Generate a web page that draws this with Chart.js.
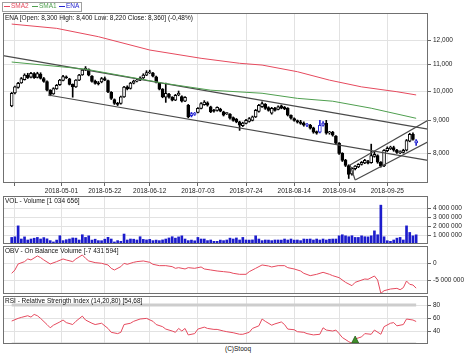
<!DOCTYPE html>
<html><head><meta charset="utf-8">
<script src="https://cdn.jsdelivr.net/npm/chart.js@4/dist/chart.umd.min.js"></script>
<style>
html,body{margin:0;padding:0;background:#fff;}
#wrap{position:relative;width:474px;height:355px;overflow:hidden;font-family:"Liberation Sans",Arial,sans-serif;}
canvas{position:absolute;left:0;}
.t{position:absolute;font-size:6.5px;line-height:8px;height:8px;color:#111;white-space:nowrap;}
.dash{position:absolute;height:1px;width:6px;}
#legend{position:absolute;left:2px;top:2px;width:78px;height:8px;border:1px solid #a0a0a0;background:#fff;}
</style></head><body>
<div id="wrap">
<canvas id="cMain" width="474" height="195" style="top:0;width:474px;height:195px"></canvas>
<canvas id="cVol" width="474" height="50" style="top:195px;width:474px;height:50px"></canvas>
<canvas id="cObv" width="474" height="50" style="top:245px;width:474px;height:50px"></canvas>
<canvas id="cRsi" width="474" height="50" style="top:295px;width:474px;height:50px"></canvas>
<div id="legend"></div>
<div class="dash" style="left:4px;top:6px;background:#e64a5e"></div><div class="t" style="left:11px;top:2px;color:#e64a5e">SMA2</div>
<div class="dash" style="left:32px;top:6px;background:#4f9f4f"></div><div class="t" style="left:39px;top:2px;color:#4f9f4f">SMA1</div>
<div class="dash" style="left:59px;top:6px;background:#2424d0"></div><div class="t" style="left:66px;top:2px;color:#2424d0">ENA</div>
<div class="t" id="tMain" style="left:5px;top:14px"></div>
<div class="t" id="tVol" style="left:5px;top:197px"></div>
<div class="t" id="tObv" style="left:5px;top:247px"></div>
<div class="t" id="tRsi" style="left:5px;top:297px"></div>
<div class="t" style="left:225px;top:345px">(C)Stooq</div>
</div>
<script>
// ---------------- data ----------------
const tickDays   = [1, 15.5, 29, 43, 58, 73, 88, 102, 117];
const tickLabels = ['', '2018-05-01', '2018-05-22', '2018-06-12', '2018-07-03', '2018-07-24', '2018-08-14', '2018-09-04', '2018-09-25'];
const priceTicks = [8000, 9000, 10000, 11000, 12000];
const volumeTicks = [1000000, 2000000, 3000000, 4000000];
const obvTicks = [0, -5000000];
const rsiTicks = [40, 60, 80];
const rsiBands = [20, 80];

const opens = [9480,9930,10130,10300,10420,10590,10510,10650,10500,10630,10460,10350,10030,9900,10080,10230,10390,10520,10450,10240,
10150,10400,10600,10790,10800,10550,10360,10300,10330,10460,10380,9950,9700,9570,9560,9790,10150,10090,10290,10360,
10400,10480,10590,10680,10670,10520,10300,10070,9780,9880,9780,9680,9860,9800,9640,9500,9150,9190,9260,9390,
9520,9580,9450,9330,9330,9370,9280,9220,9200,9090,9040,8950,8830,8900,8960,9000,9110,9290,9450,9530,
9420,9230,9400,9360,9480,9430,9400,9160,9060,8990,8950,8910,8840,8850,8760,8640,8620,8840,8900,8600,
8620,8500,8290,7990,7800,7650,7420,7560,7610,7680,7720,7760,7730,7900,7930,7740,7640,8070,8130,8160,
8080,8010,8020,8080,8350,8560,8300];
const highs = [9950,10180,10320,10500,10640,10660,10700,10690,10700,10680,10500,10370,10050,10120,10240,10430,10580,10560,10470,10260,
10420,10620,10810,10920,10830,10570,10400,10350,10500,10520,10400,9980,9720,9600,9820,10170,10190,10320,10400,10440,
10520,10640,10760,10780,10700,10550,10320,10090,10290,9920,9800,9880,10000,9830,9800,9530,9260,9260,9420,9590,
9660,9620,9470,9360,9450,9400,9300,9260,9220,9110,9060,8970,8940,9030,9090,9140,9360,9530,9620,9560,
9450,9430,9430,9480,9510,9460,9420,9180,9080,9010,9000,8950,8900,8870,8780,8660,9000,8960,9000,8650,
8650,8520,8310,8010,7820,7670,7590,7650,7700,7760,7820,7790,8260,8050,7950,7760,8100,8180,8200,8200,
8110,8060,8110,8400,8590,8600,8400];
const lows = [9450,9900,10100,10280,10400,10460,10480,10460,10480,10440,10320,10000,9830,9880,10060,10200,10370,10460,10220,9780,
10130,10380,10580,10760,10560,10320,10250,10220,10300,10380,9940,9700,9530,9490,9540,9770,10040,10070,10260,10330,
10380,10460,10570,10650,10520,10300,10040,9760,9600,9750,9650,9660,9830,9610,9620,9080,9110,9160,9240,9380,
9500,9470,9250,9270,9300,9280,9140,9190,9040,8970,8920,8680,8800,8880,8940,8980,9090,9270,9430,9360,
9300,9200,9300,9340,9380,9350,9140,9040,8970,8910,8870,8810,8800,8720,8590,8560,8600,8810,8560,8560,
8500,8260,7960,7760,7620,7300,7390,7530,7590,7660,7700,7690,7710,7880,7710,7600,7620,8040,8100,8050,
7990,7980,8000,8060,8330,8380,8220];
const closes = [9920,10150,10280,10460,10590,10490,10660,10490,10650,10460,10350,10030,9880,10090,10210,10400,10530,10490,10240,10150,
10400,10590,10780,10850,10590,10350,10280,10260,10460,10400,9970,9740,9560,9530,9790,10140,10080,10290,10360,10400,
10480,10590,10690,10700,10550,10320,10070,9790,9920,9780,9680,9850,9920,9640,9780,9110,9220,9230,9400,9560,
9610,9500,9280,9300,9430,9300,9170,9230,9070,9000,8950,8840,8910,9000,9060,9110,9330,9500,9560,9390,
9330,9400,9330,9450,9400,9380,9170,9070,9000,8940,8900,8840,8870,8750,8620,8590,8840,8910,8590,8620,
8530,8290,7990,7790,7650,7410,7570,7630,7680,7740,7790,7710,7930,7960,7740,7630,8080,8140,8170,8080,
8020,8020,8080,8370,8560,8400,8360];
const blueCandleDays = [56, 57, 92, 96, 97, 126];

const volumes = [740000,810000,2040000,560000,800000,450000,560000,650000,740000,560000,720000,580000,380000,230000,440000,930000,380000,480000,560000,680000,
660000,450000,1040000,740000,920000,440000,540000,380000,370000,540000,750000,560000,230000,380000,300000,1120000,450000,560000,540000,450000,
820000,520000,460000,520000,380000,440000,380000,460000,560000,680000,820000,660000,800000,920000,560000,380000,440000,360000,740000,560000,
560000,380000,450000,300000,300000,440000,380000,450000,660000,560000,680000,450000,740000,450000,440000,460000,920000,560000,380000,450000,
440000,380000,450000,450000,440000,560000,450000,560000,440000,450000,380000,560000,540000,560000,450000,560000,450000,560000,450000,540000,
560000,560000,920000,1040000,920000,820000,930000,740000,740000,920000,820000,800000,920000,1480000,1040000,4370000,810000,370000,300000,450000,
660000,740000,450000,2040000,1300000,920000,1034656];

const obvDays   = [0,1,2,4,5,6,8,9,10,12,14,16,17,19,20,22,23,24,26,28,30,31,32,34,35,36,38,39,41,43,44,46,48,50,51,52,54,55,57,59,
60,62,64,66,68,69,71,73,74,76,78,80,81,83,85,86,88,90,91,93,95,97,99,100,102,104,106,107,110,111,113,114,115,116,118,120,121,122,123,124,125,126];
const obvValues = [-3000000,-2000000,-200000,500000,1300000,1000000,2200000,1700000,1000000,-200000,500000,1300000,1000000,500000,1300000,2500000,1500000,700000,200000,0,
-500000,-1500000,-2000000,-1000000,0,-300000,300000,500000,700000,300000,-300000,-700000,-700000,-1000000,-1500000,-1300000,-1700000,-1300000,-1500000,-1100000,
-1700000,-2000000,-2300000,-2500000,-2700000,-3000000,-3300000,-3300000,-2500000,-1500000,-500000,-800000,-1100000,-700000,-700000,-1300000,-1700000,-2300000,-3000000,-3700000,
-3300000,-2700000,-3300000,-3700000,-4300000,-5700000,-6700000,-5700000,-4700000,-4800000,-3800000,-5000000,-9000000,-8200000,-7700000,-7500000,-7900000,-7300000,-5300000,-6300000,
-6500000,-7431594];

const rsiDays   = [0,2,3,5,6,7,8,9,11,12,13,15,16,17,19,20,22,23,25,26,28,30,31,33,34,35,37,38,40,42,44,45,47,48,50,51,52,53,54,55,
57,58,60,61,63,64,66,67,69,71,72,74,75,77,78,79,81,82,84,85,86,88,89,91,92,94,96,97,98,100,101,102,103,105,106,107,109,110,112,113,
115,116,118,119,120,122,123,125,126];
const rsiValues = [55.4,59.5,61,63.6,61.5,65.6,63.6,59.5,50,45,49,54,57,53,50,55,63,57,52,50,
52,44,38,36,38,50,52,55,58.5,59.5,55,50,46.7,43,40,38,44,40,44,34,
36,43,46,44,42.5,42.5,40,39,37.4,35,35,38,44,48,58.5,55,49,51,54,50,43,42,39,38,36,34,35,45,41.5,40,
41.5,36,30,23.6,21,27.7,31,36,35,41.5,35,46.7,52,53,48,50,58.5,57,54.68];
const rsiSignalDays = [107];

const sma2Days   = [0, 14, 27, 43, 59, 71, 78, 89, 99, 109, 120, 126];
const sma2Values = [12725, 12530, 12160, 11590, 11250, 11050, 10980, 10720, 10400, 10150, 9975, 9860];
const sma1Days   = [0, 23, 42, 47, 62, 78, 89, 100, 112, 126];
const sma1Values = [11100, 10820, 10400, 10290, 10030, 9920, 9740, 9640, 9400, 9065];

const trendFromDay   = [-2.71, 11.3, 105.4, 107, 105.4];
const trendFromPrice = [11358, 9858, 7665, 7260, 7665];
const trendToDay     = [129.69, 129.69, 129.69, 129.69, 107];
const trendToPrice   = [8720, 7793, 9002, 8331, 7260];

// ---------------- helpers ----------------
Chart.defaults.font.family = "'Liberation Sans', Arial, sans-serif";
Chart.defaults.font.size = 6.5;
Chart.defaults.color = '#222';
const X_MIN = -2.71, X_MAX = 129.69;
const GRID = '#e2e2e2', FRAME = '#707070', RED = '#e64a5e', GREEN = '#4f9f4f', BLUE = '#2424d0';
const fmtSpace = v => Math.round(v).toString().replace(/\B(?=(\d{3})+(?!\d))/g, ' ');
const fmtComma = v => Math.round(v).toString().replace(/\B(?=(\d{3})+(?!\d))/g, ',');
const dec = (v, n) => v.toFixed(n).replace('.', ',');

const framePlugin = {
  id: 'frame',
  afterDraw(chart) {
    const {ctx, chartArea: a} = chart;
    ctx.save();
    ctx.strokeStyle = FRAME; ctx.lineWidth = 1;
    ctx.strokeRect(Math.round(a.left) + 0.5, Math.round(a.top) + 0.5, Math.round(a.right - a.left) - 1, Math.round(a.bottom - a.top) - 1);
    ctx.restore();
  }
};

function xScale(showLabels) {
  return {
    type: 'linear', min: X_MIN, max: X_MAX, offset: false,
    afterBuildTicks: s => { s.ticks = tickDays.map(v => ({value: v})); },
    afterFit: s => { s.height = showLabels ? 12 : 0; s.paddingLeft = 0; s.paddingRight = 0; },
    grid: { color: GRID, offset: false, drawTicks: showLabels, tickLength: 3, tickColor: '#666' },
    border: { display: false },
    ticks: { display: showLabels, autoSkip: false, maxRotation: 0, minRotation: 0, padding: 1, color: '#222',
      callback: (v, i) => tickLabels[i] ?? '' }
  };
}
function yScale(type, min, max, ticks, fmt) {
  return {
    type, position: 'right', min, max,
    afterBuildTicks: s => { s.ticks = ticks.map(v => ({value: v})); },
    afterFit: s => { s.width = 46; s.paddingTop = 0; s.paddingBottom = 0; },
    grid: { color: GRID, tickLength: 3, tickColor: '#666' },
    border: { display: false },
    ticks: { padding: 2, autoSkip: false, color: '#222', callback: v => fmt(v) }
  };
}
function options(pad, showX, y) {
  return {
    responsive: false, maintainAspectRatio: false, animation: false, devicePixelRatio: 1, events: [],
    layout: { padding: pad },
    plugins: { legend: {display: false}, tooltip: {enabled: false}, title: {display: false} },
    scales: { x: xScale(showX), y }
  };
}
const pts = (xs, ys) => xs.map((x, k) => ({x, y: ys[k]}));
const isBlue = i => blueCandleDays.includes(i);

// ---------------- main price chart ----------------
const trendSets = trendFromDay.map((d, k) => ({
  type: 'line', data: [{x: d, y: trendFromPrice[k]}, {x: trendToDay[k], y: trendToPrice[k]}],
  borderColor: '#4a4a4a', borderWidth: 1.2, pointRadius: 0, order: 3
}));
new Chart(document.getElementById('cMain'), {
  type: 'bar',
  data: { datasets: [
    { type: 'line', data: pts(sma2Days, sma2Values), borderColor: RED, borderWidth: 1, pointRadius: 0, order: 1 },
    { type: 'line', data: pts(sma1Days, sma1Values), borderColor: GREEN, borderWidth: 1, pointRadius: 0, order: 1 },
    ...trendSets,
    { type: 'bar', data: closes.map((c, i) => ({x: i, y: [lows[i], highs[i]]})), grouped: false, barThickness: 1,
      backgroundColor: closes.map((c, i) => isBlue(i) ? BLUE : '#000'), order: 5 },
    { type: 'bar', data: closes.map((c, i) => ({x: i, y: [opens[i], c]})), grouped: false, barThickness: 3, minBarLength: 1,
      borderWidth: 1, borderSkipped: false,
      borderColor: closes.map((c, i) => isBlue(i) ? BLUE : '#000'),
      backgroundColor: closes.map((c, i) => isBlue(i) ? '#fff' : (c >= opens[i] ? '#fff' : '#000')), order: 4 }
  ]},
  options: options({left: 3, right: 0, top: 13, bottom: 0}, true,
    yScale('logarithmic', 7182, 13242, priceTicks, fmtComma)),
  plugins: [framePlugin]
});

// ---------------- volume ----------------
new Chart(document.getElementById('cVol'), {
  type: 'bar',
  data: { datasets: [{ data: volumes.map((v, i) => ({x: i, y: v})), barThickness: 2, backgroundColor: '#1c1ccc', grouped: false }] },
  options: options({left: 3, right: 0, top: 1, bottom: 1}, false, yScale('linear', 0, 5400000, volumeTicks, fmtSpace)),
  plugins: [framePlugin]
});

// ---------------- OBV ----------------
new Chart(document.getElementById('cObv'), {
  type: 'line',
  data: { datasets: [{ data: pts(obvDays, obvValues), borderColor: RED, borderWidth: 1, pointRadius: 0 }] },
  options: options({left: 3, right: 0, top: 1, bottom: 1}, false, yScale('linear', -9190000, 5180000, obvTicks, fmtSpace)),
  plugins: [framePlugin]
});

// ---------------- RSI ----------------
const signalPlugin = {
  id: 'signal',
  afterDatasetsDraw(chart) {
    const {ctx, chartArea: a, scales} = chart;
    ctx.save();
    rsiSignalDays.forEach(d => {
      const x = scales.x.getPixelForValue(d), b = a.bottom - 1;
      ctx.beginPath(); ctx.moveTo(x - 3.5, b); ctx.lineTo(x + 3.5, b); ctx.lineTo(x, b - 7); ctx.closePath();
      ctx.fillStyle = '#3f8f2a'; ctx.fill(); ctx.strokeStyle = '#2b5e1c'; ctx.lineWidth = 0.8; ctx.stroke();
    });
    ctx.restore();
  }
};
const firstDay = 0, lastDay = closes.length - 1;
new Chart(document.getElementById('cRsi'), {
  type: 'line',
  data: { datasets: [
    ...rsiBands.map(b => ({ data: [{x: firstDay, y: b}, {x: lastDay, y: b}], borderColor: '#cdcdcd', borderWidth: 3, pointRadius: 0, order: 3 })),
    { data: pts(rsiDays, rsiValues), borderColor: RED, borderWidth: 1, pointRadius: 0, order: 1 }
  ]},
  options: options({left: 3, right: 0, top: 1, bottom: 1}, false, yScale('linear', 20, 94, rsiTicks, v => String(v))),
  plugins: [framePlugin, signalPlugin]
});

// ---------------- captions ----------------
const n = closes.length - 1;
const chg = (closes[n] - closes[n - 1]) / closes[n - 1] * 100;
document.getElementById('tMain').textContent =
  `ENA [Open: ${fmtComma(opens[n])}  High: ${fmtComma(highs[n])}  Low: ${fmtComma(lows[n])}  Close: ${fmtComma(closes[n])}] (${dec(chg, 2)}%)`;
document.getElementById('tVol').textContent = `VOL - Volume [${fmtSpace(volumes[n])}]`;
document.getElementById('tObv').textContent = `OBV - On Balance Volume [${fmtSpace(obvValues[obvValues.length - 1])}]`;
document.getElementById('tRsi').textContent = `RSI - Relative Strength Index (14,20,80) [${dec(rsiValues[rsiValues.length - 1], 2)}]`;
</script>
</body></html>
